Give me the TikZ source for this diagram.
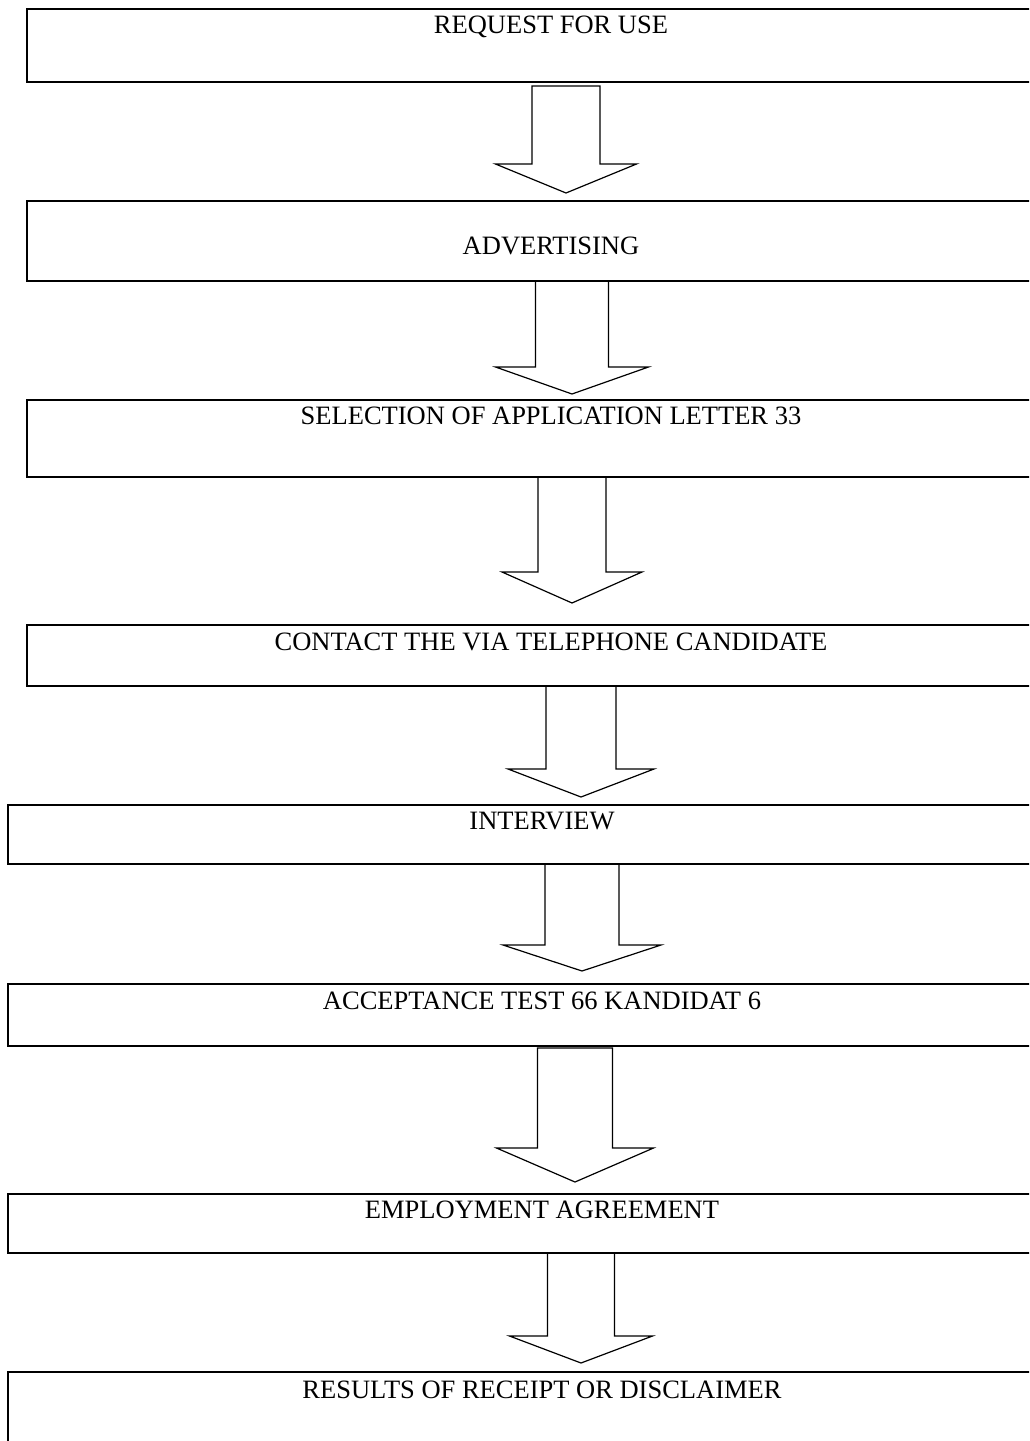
\documentclass[tikz,border=0pt]{standalone}
\usepackage{fontspec}
\setmainfont{Liberation Serif}
\usetikzlibrary{calc}

\tikzset{
    stepbox/.style={draw, line width=1.2pt, outer sep=0pt, inner xsep=0pt, inner ysep=0pt, anchor=north,
        font=\fontsize{13.25}{16}\selectfont},
    fatarrow/.style n args={3}{draw, line width=0.6pt, to path={
        let \p1=(\tikztostart), \p2=(\tikztotarget) in
        (\x2-#1,\y1) -- (\x2-#1,\y2+#3) -- (\x2-#2,\y2+#3) -- (\x2,\y2)
        -- (\x2+#2,\y2+#3) -- (\x2+#1,\y2+#3) -- (\x2+#1,\y1) -- cycle}}
}

\begin{document}
\begin{tikzpicture}[x=0.5pt, y=-0.5pt]
    \useasboundingbox (0,0) rectangle (1029,1441);
    \clip (0,0) rectangle (1029,1441);
    % steps
    \node[stepbox, minimum width=523.75pt, text height=12pt, text depth=24.5pt] (b1) at (551,9) {REQUEST FOR USE};
    \node[stepbox, minimum width=523.75pt, text height=26.5pt, text depth=13.5pt] (b2) at (551,201) {ADVERTISING};
    \node[stepbox, minimum width=523.75pt, text height=12pt, text depth=26.5pt] (b3) at (551,400) {SELECTION OF APPLICATION LETTER 33};
    \node[stepbox, minimum width=523.75pt, text height=12.5pt, text depth=18pt] (b4) at (551,625) {CONTACT THE VIA TELEPHONE CANDIDATE};
    \node[stepbox, minimum width=534pt, text height=12pt, text depth=17.5pt] (b5) at (542,805) {INTERVIEW};
    \node[stepbox, minimum width=534pt, text height=12.5pt, text depth=18.5pt] (b6) at (542,984) {ACCEPTANCE TEST 66 KANDIDAT 6};
    \node[stepbox, minimum width=534pt, text height=12pt, text depth=17.5pt] (b7) at (542,1194) {EMPLOYMENT AGREEMENT};
    \node[stepbox, minimum width=534pt, text height=13pt, text depth=31pt] (b8) at (542,1372) {RESULTS OF RECEIPT OR DISCLAIMER};
    % arrow tips
    \coordinate (t1) at (566,193);
    \coordinate (t2) at (572,394);
    \coordinate (t3) at (572,603);
    \coordinate (t4) at (581,797);
    \coordinate (t5) at (582,971);
    \coordinate (t6) at (575,1182);
    \coordinate (t7) at (581,1363);
    % arrows
    \draw[fatarrow={17pt}{35.25pt}{14.5pt}] (b1.south -| t1) ++(0,4) to (t1);
    \draw[fatarrow={18.25pt}{38.25pt}{13.5pt}] (b2.south -| t2) to (t2);
    \draw[fatarrow={17pt}{35pt}{15.5pt}] (b3.south -| t3) to (t3);
    \draw[fatarrow={17.5pt}{36.5pt}{14pt}] (b4.south -| t4) to (t4);
    \draw[fatarrow={18.5pt}{39.5pt}{13pt}] (b5.south -| t5) to (t5);
    \draw[fatarrow={18.75pt}{39.25pt}{17pt}] (b6.south -| t6) ++(0,2) to (t6);
    \draw[fatarrow={16.75pt}{35.75pt}{13.5pt}] (b7.south -| t7) to (t7);
\end{tikzpicture}
\end{document}
